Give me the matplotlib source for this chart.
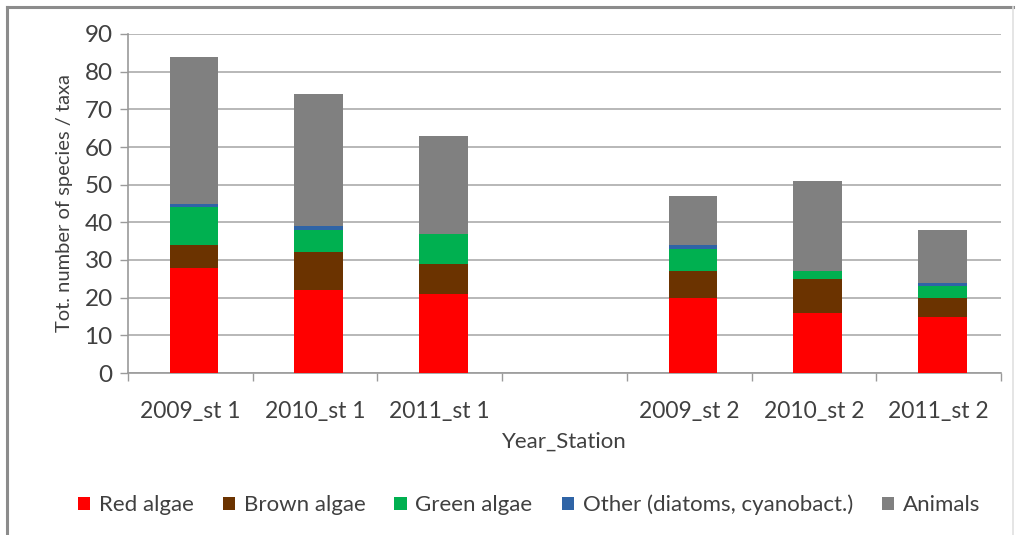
import matplotlib
matplotlib.use("Agg")
import matplotlib.pyplot as plt
import numpy as np
from matplotlib.lines import Line2D

# Species / taxa counts per year and station (blank slot separates the stations)
categories = ["2009_st 1", "2010_st 1", "2011_st 1", "", "2009_st 2", "2010_st 2", "2011_st 2"]
red_algae = [28, 22, 21, 0, 20, 16, 15]
brown_algae = [6, 10, 8, 0, 7, 9, 5]
green_algae = [10, 6, 8, 0, 6, 2, 3]
other = [1, 1, 0, 0, 1, 0, 1]
animals = [39, 35, 26, 0, 13, 24, 14]

series = [
    ("Red algae", red_algae, "#FF0000"),
    ("Brown algae", brown_algae, "#6B3300"),
    ("Green algae", green_algae, "#00B050"),
    ("Other (diatoms, cyanobact.)", other, "#2F64A6"),
    ("Animals", animals, "#808080"),
]

plt.rcParams["font.family"] = ["Lato", "DejaVu Sans"]
text_color = "#404040"

W, H = 1016, 535
fig = plt.figure(figsize=(W / 100, H / 100), dpi=100)
fig.patch.set_facecolor("white")

# Chart frame
fig.add_artist(Line2D([7 / W, 1013 / W], [1 - 7 / H, 1 - 7 / H], color="#8c8c8c", lw=2.2))
fig.add_artist(Line2D([7 / W, 7 / W], [0, 1 - 7 / H], color="#8c8c8c", lw=2.2))
fig.add_artist(Line2D([1013 / W, 1013 / W], [0, 1 - 7 / H], color="#e0e0e0", lw=1.2))

left, right, top, bottom = 128, 1001, 34, 373
ax = fig.add_axes([left / W, 1 - bottom / H, (right - left) / W, (bottom - top) / H])

x = np.arange(len(categories))
base = np.zeros(len(categories))
for name, vals, col in series:
    vals = np.array(vals, dtype=float)
    ax.bar(x + 0.03, vals, width=0.39, bottom=base, color=col, label=name, zorder=3)
    base += vals

ax.set_xlim(-0.5, len(categories) - 0.5)
ax.set_ylim(0, 90)
ax.set_yticks(np.arange(0, 91, 10))
ax.yaxis.grid(True, color="#b8b8b8", lw=1.4, zorder=0)
ax.set_axisbelow(True)

ax.set_xticks(x)
ax.set_xticklabels(categories)
ax.set_xticks(np.arange(-0.5, len(categories)), minor=True)
ax.tick_params(axis="x", which="major", length=0, pad=20, labelsize=16.5, labelcolor=text_color)
ax.tick_params(axis="x", which="minor", length=6, color="#9a9a9a", width=1)
ax.tick_params(axis="y", length=6, color="#9a9a9a", width=1, labelsize=17.5, labelcolor=text_color, pad=5)

for s in ["top", "right"]:
    ax.spines[s].set_visible(False)
for s in ["left", "bottom"]:
    ax.spines[s].set_color("#9a9a9a")
    ax.spines[s].set_linewidth(1.2)

ax.set_ylabel("Tot. number of species / taxa", fontsize=14.5, color=text_color, labelpad=8)
ax.set_xlabel("Year_Station", fontsize=16, color=text_color, labelpad=7)

handles, labels = ax.get_legend_handles_labels()
leg = fig.legend(handles, labels, loc="center", bbox_to_anchor=(529 / W, 1 - 505 / H),
                 ncol=5, frameon=False, fontsize=16, handlelength=0.55, handleheight=0.55,
                 handletextpad=0.4, columnspacing=1.3)
for t in leg.get_texts():
    t.set_color(text_color)

fig.savefig("out.png", dpi=100)
